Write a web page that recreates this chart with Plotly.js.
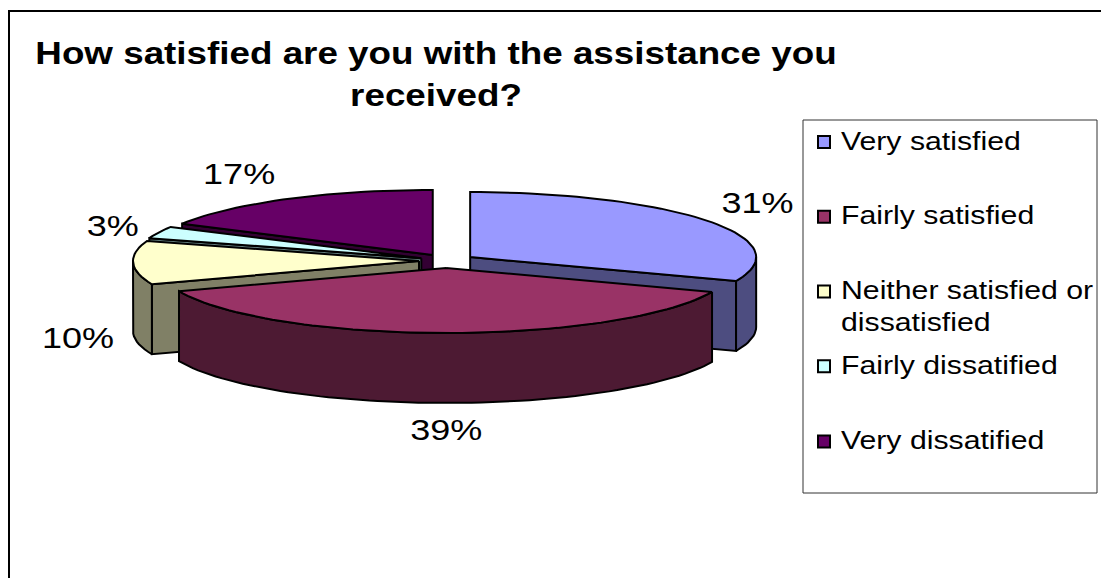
<!DOCTYPE html>
<html>
<head>
<meta charset="utf-8">
<script src="https://cdn.plot.ly/plotly-3.0.1.min.js"></script>
<style>html,body{margin:0;padding:0;background:#fff}#chart{width:1101px;height:578px}</style>
</head>
<body>
<div id="chart"></div>
<script>
// Survey results
const categories = ['Very satisfied', 'Fairly satisfied', 'Neither satisfied or<br>dissatisfied', 'Fairly dissatified', 'Very dissatified'];
const percents = [31, 39, 10, 3, 17];
const topColors = ['#9999FF', '#993366', '#FFFFCC', '#CCFFFF', '#660066'];
const wallColors = ['#4D4D80', '#4D1A33', '#808066', '#668080', '#330033'];

// Pie geometry on pixel-scaled axes
const centerX = 447, centerY = 261, radiusX = 286, radiusY = 65, depth = 70, explode = 28, squash = 0.25;
// Foreshortening of the front-left quadrant, in degrees
const frontLeftSkew = 5;
// Slices are painted back to front
const paintOrder = [4, 3, 2, 0, 1];
// Label placement around each slice, with a per-label adjustment
const labelRadiusX = 345, labelRadiusY = 95;
const labelNudgeX = [2, 11, 4, 8, -18];
const labelNudgeY = [2, 70, 80, 8, 3];
// Legend row positions (paper fractions) and swatch offsets (pixels)
const legendTops = [0.203, 0.332, 0.461, 0.591, 0.721];
const swatchShift = [2, 2, -14, 2, 2];
// Horizontal text widening
const titleStretch = 1.15, labelStretch = 1.2, legendStretch = 1.21;

const rad = d => d * Math.PI / 180;
const view = a => (a > 180 && a < 270) ? a - frontLeftSkew * Math.sin(2 * rad(a - 180)) : a;
let cum = 0;
const slices = percents.map(p => {
  const a0 = cum * 3.6; cum += p; const a1 = cum * 3.6;
  const mid = rad((a0 + a1) / 2);
  return { a0, a1, cx: centerX + explode * Math.sin(mid), cy: centerY - explode * squash * Math.cos(mid), mid };
});
const rim = (s, a) => [s.cx + radiusX * Math.sin(rad(view(a))), s.cy - radiusY * Math.cos(rad(view(a)))];
const arc = (s, a0, a1) => {
  const n = Math.max(2, Math.ceil((a1 - a0) / 2)), pts = [];
  for (let i = 0; i <= n; i++) pts.push(rim(s, a0 + (a1 - a0) * i / n));
  return pts;
};
const poly = (pts, fill, name) => ({
  type: 'scatter', mode: 'lines', x: pts.map(p => p[0]), y: pts.map(p => p[1]), fill: 'toself', fillcolor: fill,
  line: { color: '#000', width: 2 }, showlegend: false, hoverinfo: 'skip', name
});
const down = pts => pts.map(p => [p[0], p[1] + depth]);

const traces = [];
paintOrder.forEach(i => {
  const s = slices[i], apex = [s.cx, s.cy];
  const wall = edge => traces.push(poly([apex, edge, [edge[0], edge[1] + depth], [apex[0], apex[1] + depth], apex], wallColors[i], categories[i]));
  if (s.a0 >= 180) wall(rim(s, s.a0));
  if (s.a1 <= 180) wall(rim(s, s.a1));
  const lo = Math.max(s.a0, 90), hi = Math.min(s.a1, 270);
  if (hi > lo) {
    const outer = arc(s, lo, hi);
    traces.push(poly([...outer, ...down(outer).reverse(), outer[0]], wallColors[i], categories[i]));
  }
  traces.push(poly([apex, ...arc(s, s.a0, s.a1), apex], topColors[i], categories[i]));
});

// Percentage labels
traces.push({
  type: 'scatter', mode: 'text', showlegend: false, hoverinfo: 'skip',
  x: slices.map((s, i) => s.cx + labelRadiusX * Math.sin(s.mid) + labelNudgeX[i]),
  y: slices.map((s, i) => s.cy - labelRadiusY * Math.cos(s.mid) + labelNudgeY[i]),
  text: percents.map(p => p + '%'), textposition: 'middle center',
  textfont: { family: 'Liberation Sans', size: 30, color: '#000' }
});

const layout = {
  width: 1101, height: 578, margin: { l: 0, r: 0, t: 0, b: 0 }, paper_bgcolor: '#fff', plot_bgcolor: '#fff',
  xaxis: { range: [0, 1101], visible: false, fixedrange: true },
  yaxis: { range: [578, 0], visible: false, fixedrange: true },
  title: {
    text: 'How satisfied are you with the assistance you<br>received?',
    x: 436 / 1101, xanchor: 'center', y: 0.889, yanchor: 'bottom',
    font: { family: 'Liberation Sans', size: 32, color: '#000', weight: 'bold' }
  },
  shapes: [
    { type: 'line', xref: 'x', yref: 'y', x0: 9, y0: 11, x1: 1101, y1: 11, line: { color: '#000', width: 2 } },
    { type: 'line', xref: 'x', yref: 'y', x0: 9, y0: 10, x1: 9, y1: 578, line: { color: '#000', width: 2 } },
    { type: 'rect', xref: 'x', yref: 'y', x0: 803, y0: 120, x1: 1097, y1: 493, line: { color: '#333', width: 1 }, fillcolor: 'rgba(0,0,0,0)' }
  ]
};
// One single-entry legend per category so the rows can be spaced freely
categories.forEach((c, i) => {
  const key = i === 0 ? 'legend' : 'legend' + (i + 1);
  traces.push({
    type: 'scatter', mode: 'markers', x: [null], y: [null], name: c, legend: key, showlegend: true,
    marker: { symbol: 'square', size: 17, color: topColors[i], line: { color: '#000', width: 2 } }
  });
  layout[key] = {
    x: 804 / 1101, xanchor: 'left', y: 1 - legendTops[i], yanchor: 'top', bgcolor: 'rgba(0,0,0,0)',
    borderwidth: 0, font: { family: 'Liberation Sans', size: 25, color: '#000' }, itemsizing: 'constant', itemwidth: 30
  };
});

// Widen rendered text about its anchor; anything a later draw pass rebuilt is widened again
function widen(root, selector, factor, shift) {
  root.querySelectorAll(selector).forEach(el => {
    const prior = el.getAttribute('transform') || '';
    if (prior.includes('scale(')) return;
    const x0 = parseFloat(el.getAttribute('x')) || 0;
    el.setAttribute('transform', `${prior} translate(${x0 + shift},0) scale(${factor},1) translate(${-x0},0)`);
  });
}
const chart = document.getElementById('chart');
const legendTextSelector = categories.map((c, i) => `text.legend${i === 0 ? '' : i + 1}text`).join(',');
function finishText() {
  widen(chart, '.gtitle', titleStretch, 0);
  widen(chart, '.textpoint text', labelStretch, 0);
  widen(chart, legendTextSelector, legendStretch, -3);
  chart.querySelectorAll('.scrollbox').forEach(el => el.removeAttribute('clip-path'));
  chart.querySelectorAll('.legendsymbols').forEach((g, i) => {
    g.setAttribute('transform', `translate(0,${swatchShift[i]})`);
  });
}
Plotly.newPlot(chart, traces, layout, { displayModeBar: false, responsive: false }).then(() => {
  finishText();
  chart.on('plotly_afterplot', finishText);
});
</script>
</body>
</html>
